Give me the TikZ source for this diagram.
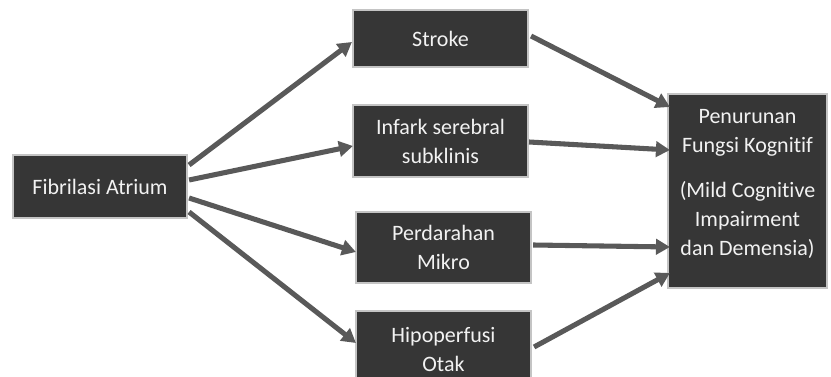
\documentclass[tikz,border=0pt]{standalone}
\usepackage{fontspec}
\setmainfont{Carlito}[Ligatures={NoCommon,NoRare,NoContextual}]
\usetikzlibrary{arrows.meta,calc}
\definecolor{boxfill}{HTML}{363636}
\definecolor{boxline}{HTML}{C4C4C4}
\definecolor{arrcol}{HTML}{595959}
\definecolor{boxtext}{HTML}{F2F2F2}
\begin{document}
\begin{tikzpicture}[x=0.75pt,y=-0.75pt,
  box/.style={draw=boxline,fill=boxfill,line width=1.6pt,text=boxtext,align=center,inner sep=0pt,
    font=\fontsize{16.5pt}{21.75pt}\selectfont},
  boxtxt/.style={text=boxtext,align=center,inner sep=0pt,font=\fontsize{16.5pt}{21.75pt}\selectfont},
  arr/.style={draw=arrcol,line width=3.8pt,-{Triangle[length=10.5pt,width=11.5pt]}}]
\useasboundingbox (0,0) rectangle (831,377);
\node[box,minimum width=174*0.75pt,minimum height=63*0.75pt] (fa) at (100,186.5) {Fibrilasi Atrium};
\node[box,minimum width=175*0.75pt,minimum height=57*0.75pt] (st) at (440.5,38.5) {Stroke};
\node[box,minimum width=175*0.75pt,minimum height=72*0.75pt] (in) at (440.5,141) {Infark serebral\\subklinis};
\node[box,minimum width=175*0.75pt,minimum height=71*0.75pt] (pd) at (443.5,247.5) {Perdarahan\\Mikro};
\node[box,minimum width=175*0.75pt,minimum height=78*0.75pt] (hp) at (443.5,350) {Hipoperfusi\\Otak};
\node[box,minimum width=159*0.75pt,minimum height=194*0.75pt] (pf) at (747.5,191) {};
\node[boxtxt] (pft) at (747.5,184) {Penurunan\\Fungsi Kognitif\\[12pt](Mild Cognitive\\Impairment\\dan Demensia)};
\draw[arr] ($(fa.east)+(1,-21.5)$) -- ($(st.west)+(0,3.5)$);
\draw[arr] ($(fa.east)+(1,-6.5)$) -- ($(in.west)+(1,5)$);
\draw[arr] ($(fa.east)+(1,11.5)$) -- ($(pd.west)+(1,4.5)$);
\draw[arr] ($(fa.east)+(1,25.5)$) -- ($(hp.west)+(1,-7)$);
\draw[arr] ($(st.east)+(2,-2.5)$) -- ($(pf.west)+(3,-84)$);
\draw[arr] ($(in.east)+(0,1)$) -- ($(pf.west)+(3,-41)$);
\draw[arr] ($(pd.east)+(1,-2.5)$) -- ($(pf.west)+(3,56)$);
\draw[arr] ($(hp.east)+(2,-3)$) -- ($(pf.west)+(3,82)$);
\end{tikzpicture}
\end{document}
